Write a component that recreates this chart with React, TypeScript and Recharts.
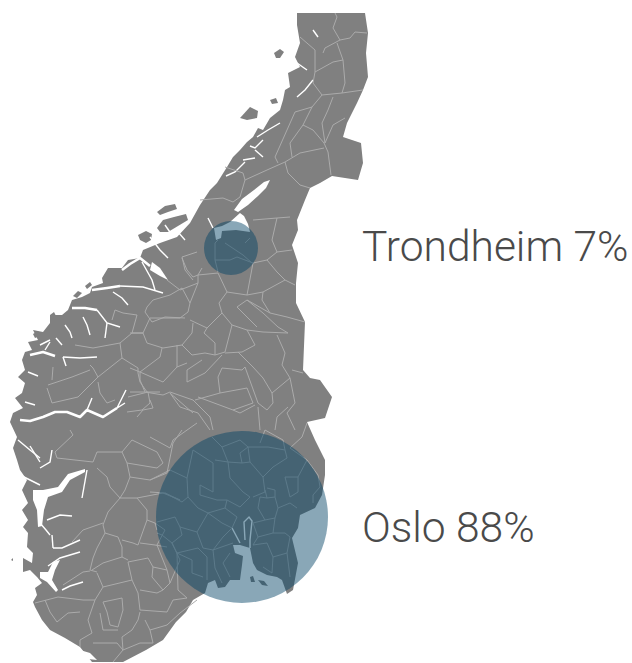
import React from 'react';
import { ScatterChart, Scatter, XAxis, YAxis, ZAxis } from 'recharts';

type Pair = number[];

// map is kept in projected map units
const mapOutline: Pair[] = [
  [297, 13], [365, 13], [368, 33], [366, 53], [368, 77], [363, 90], [357, 103], [347, 123], [343, 137], [361, 143], [363, 163], [358, 180],
  [332, 176], [320, 183], [310, 188], [305, 200], [297, 220], [298, 230], [292, 245], [298, 263], [296, 283], [296, 303], [305, 322], [303, 370],
  [310, 378], [320, 380], [332, 397], [325, 418], [307, 422], [315, 440], [325, 460], [325, 475], [322, 495], [315, 508], [300, 515], [298, 528],
  [292, 538], [298, 563], [293, 590], [287, 594], [282, 580], [277, 577], [267, 575], [257, 570], [253, 563], [250, 548], [240, 545], [233, 545], [235, 553],
  [243, 556], [242, 565], [240, 580], [230, 580], [225, 587], [218, 588], [215, 580], [208, 583], [205, 593], [193, 600], [186, 612], [176, 622], [163, 640],
  [146, 650], [123, 662], [92, 662], [80, 647], [65, 638], [50, 630], [42, 620], [35, 607], [33, 602], [37, 595], [35, 588], [42, 583], [37, 577],
  [30, 570], [23, 572], [23, 558], [32, 563], [33, 553], [27, 547], [28, 533], [23, 527], [28, 520], [22, 510], [28, 503], [22, 490], [27, 480],
  [20, 470], [17, 460], [13, 448], [17, 437], [10, 422], [13, 413], [23, 408], [15, 398], [22, 393], [25, 383], [18, 377], [25, 370], [22, 360],
  [25, 352], [32, 350], [28, 342], [38, 340], [33, 330], [43, 332], [50, 323], [50, 315], [62, 315], [68, 310], [72, 300], [82, 297], [90, 293],
  [92, 287], [103, 283], [102, 278], [108, 268], [122, 268], [128, 260], [140, 258], [143, 250], [160, 243], [177, 237], [190, 223], [200, 205],
  [210, 190], [217, 183], [227, 167], [233, 157], [240, 150], [247, 142], [253, 137], [258, 128], [263, 130], [270, 118], [280, 110], [283, 100],
  [285, 90], [290, 87], [288, 73], [300, 67], [295, 57], [300, 43], [297, 25],
];

const islands: Pair[][] = [
  [[157, 212], [165, 206], [175, 204], [177, 209], [168, 212], [160, 215]],
  [[157, 228], [163, 220], [174, 217], [186, 214], [188, 220], [178, 226], [168, 232], [160, 232]],
  [[138, 235], [146, 231], [152, 234], [151, 240], [146, 243], [140, 240]],
  [[240, 118], [250, 107], [258, 111], [257, 118], [247, 120]],
  [[274, 53], [280, 49], [284, 52], [280, 58], [276, 58]],
  [[270, 100], [276, 98], [278, 103], [272, 104]],
  [[258, 580], [264, 581], [268, 586], [262, 585]],
  [[250, 577], [253, 576], [255, 582], [251, 582]],
  [[33, 334], [38, 331], [40, 336], [35, 338]],
  [[50, 315], [54, 312], [56, 316]],
  [[11, 560], [13, 558], [13, 561]],
  [[73, 296], [78, 291], [82, 293], [77, 298]],
  [[85, 286], [90, 282], [92, 285], [87, 289]],
];

// the open water is wider than a stroke in a few places
const waterAreas: Pair[][] = [
  [[270, 180], [264, 182], [254, 190], [242, 199], [234, 210], [238, 212], [248, 205], [258, 196], [266, 188]],
  [[240, 213], [230, 222], [222, 226], [214, 228], [216, 240], [221, 238], [222, 231], [236, 230], [250, 232], [248, 224], [244, 216]],
  [[33, 490], [43, 490], [58, 487], [68, 474], [85, 469], [85, 472], [70, 480], [62, 492], [48, 497], [44, 510], [42, 526], [38, 527], [37, 510], [33, 500]],
  [[40, 572], [48, 572], [53, 562], [60, 560], [55, 570], [52, 580], [58, 590], [56, 592], [47, 582], [40, 578]],
  [[152, 262], [160, 268], [168, 280], [160, 276], [150, 270]],
  [[80, 650], [90, 653], [97, 660], [88, 659]],
];

const wideFjords: Pair[][] = [
  [[20, 420], [30, 421], [43, 417], [55, 412], [67, 412], [80, 417], [87, 410], [103, 417], [117, 408]],
  [[122, 270], [130, 264], [140, 258], [150, 266]],
  [[92, 290], [107, 288], [120, 286]],
  [[72, 308], [85, 308], [97, 310]],
  [[30, 355], [43, 352], [55, 356]],
];

const thinFjords: Pair[][] = [
  [[313, 80], [305, 90], [297, 97]],
  [[318, 37], [313, 30]],
  [[307, 70], [297, 63]],
  [[280, 123], [268, 130], [257, 137]],
  [[263, 140], [255, 148], [250, 146]],
  [[263, 157], [255, 150]],
  [[245, 162], [235, 172], [226, 176]],
  [[255, 158], [243, 160]],
  [[208, 218], [213, 228]],
  [[63, 357], [80, 358], [97, 357]],
  [[63, 357], [66, 366]],
  [[97, 310], [107, 323], [120, 327]],
  [[83, 317], [87, 325], [90, 335]],
  [[65, 325], [70, 332], [72, 338]],
  [[107, 323], [105, 338]],
  [[120, 286], [143, 287], [163, 293]],
  [[113, 292], [122, 298], [128, 305]],
  [[125, 403], [117, 408], [126, 390]],
  [[87, 410], [92, 398]],
  [[82, 498], [87, 470]],
  [[40, 523], [46, 530], [50, 535]],
  [[47, 520], [60, 515], [72, 516]],
  [[53, 548], [62, 548], [80, 540]],
  [[53, 548], [52, 535]],
  [[48, 566], [60, 558], [80, 552]],
  [[62, 590], [70, 586], [83, 582]],
  [[142, 262], [152, 280], [155, 290]],
  [[20, 475], [30, 480], [40, 485]],
  [[18, 440], [30, 450], [40, 458]],
  [[40, 468], [50, 462], [52, 450]],
  [[30, 446], [40, 462]],
  [[56, 338], [62, 345]],
  [[40, 345], [50, 340]],
  [[150, 237], [160, 250], [168, 258]],
  [[165, 225], [172, 235]],
  [[178, 232], [185, 240]],
  [[285, 62], [288, 45]],
  [[245, 540], [244, 522], [249, 517], [252, 521], [250, 540], [250, 548]],
  [[232, 528], [240, 543]],
  [[45, 350], [50, 342]],
  [[25, 402], [35, 405]],
  [[28, 372], [38, 376]],
];

const borders: Pair[][] = [
  [[367, 33], [355, 32], [350, 38], [340, 40], [333, 28], [337, 17], [335, 13]],
  [[340, 40], [325, 48], [323, 53]],
  [[337, 43], [343, 60], [345, 83], [342, 93]],
  [[315, 72], [333, 62], [343, 60]],
  [[363, 90], [342, 93], [322, 95], [313, 83], [315, 72], [315, 50], [300, 37]],
  [[322, 95], [312, 107], [303, 125], [313, 130], [324, 143], [328, 152], [331, 175]],
  [[333, 97], [328, 110], [322, 123], [325, 143]],
  [[345, 118], [333, 125], [325, 143]],
  [[324, 148], [300, 153], [285, 162], [267, 170], [245, 180], [240, 197], [233, 202]],
  [[285, 162], [288, 173], [300, 185], [310, 188]],
  [[303, 125], [290, 143], [292, 157]],
  [[312, 107], [295, 112], [287, 130], [275, 157], [278, 163]],
  [[225, 167], [243, 173], [245, 180]],
  [[200, 200], [223, 198], [233, 202]],
  [[253, 220], [277, 218], [272, 240], [277, 252], [267, 260], [253, 263]],
  [[277, 218], [290, 217]],
  [[277, 252], [292, 250]],
  [[267, 260], [277, 272], [285, 280], [295, 285]],
  [[285, 280], [263, 292], [247, 295], [253, 263]],
  [[247, 295], [227, 292], [218, 273], [198, 275], [198, 283], [180, 290], [167, 280]],
  [[198, 275], [202, 268]],
  [[182, 258], [187, 270], [193, 277], [198, 275]],
  [[227, 292], [219, 303], [222, 313], [207, 328], [190, 320]],
  [[198, 283], [190, 303], [188, 312], [180, 318], [150, 318], [143, 333], [147, 343], [163, 348], [182, 345], [192, 333], [193, 323]],
  [[182, 345], [192, 355], [205, 353], [215, 355], [215, 343], [204, 333], [207, 328]],
  [[222, 313], [232, 325], [225, 352], [215, 355]],
  [[232, 325], [247, 330], [255, 345], [242, 352], [225, 353]],
  [[247, 330], [263, 332], [288, 333], [278, 327], [263, 313], [247, 300], [237, 307], [257, 327]],
  [[247, 300], [270, 313], [287, 317], [305, 322]],
  [[263, 292], [262, 300], [270, 313]],
  [[277, 335], [285, 353], [282, 365], [290, 378], [295, 403], [287, 413], [295, 430]],
  [[290, 378], [272, 393], [263, 378], [253, 367], [238, 352]],
  [[272, 393], [273, 403], [267, 410], [258, 403], [245, 367], [242, 370], [222, 368], [218, 377], [220, 393], [195, 400]],
  [[222, 355], [205, 373], [187, 382], [187, 370], [202, 360]],
  [[292, 370], [303, 373]],
  [[220, 393], [247, 388], [253, 403], [233, 410], [198, 397]],
  [[170, 392], [193, 400], [210, 417], [213, 430]],
  [[177, 345], [177, 367], [163, 382], [140, 372], [140, 380], [145, 392], [163, 395], [170, 392]],
  [[177, 367], [187, 363]],
  [[162, 348], [160, 357], [140, 372]],
  [[130, 333], [143, 333]],
  [[130, 368], [140, 372]],
  [[130, 392], [145, 392]],
  [[150, 400], [153, 408], [143, 410], [137, 417]],
  [[170, 393], [180, 407], [198, 413], [210, 430]],
  [[288, 407], [277, 417], [275, 430]],
  [[258, 407], [260, 430]],
  [[233, 410], [240, 413], [255, 405]],
  [[182, 288], [170, 295], [153, 300], [147, 307], [145, 312], [152, 322], [165, 317], [185, 318]],
  [[182, 288], [190, 303]],
  [[143, 333], [132, 333], [120, 343], [122, 358], [138, 368], [138, 373], [140, 382], [147, 392], [160, 392]],
  [[120, 343], [93, 348], [75, 345]],
  [[122, 358], [98, 377], [78, 397], [52, 403]],
  [[98, 377], [93, 368], [90, 365]],
  [[98, 382], [100, 393], [107, 403], [115, 400]],
  [[47, 388], [52, 403]],
  [[90, 370], [72, 377], [48, 385]],
  [[53, 367], [52, 380]],
  [[137, 315], [123, 313], [115, 310], [112, 320]],
  [[137, 315], [132, 333]],
  [[128, 397], [148, 392], [150, 403], [142, 410], [127, 412]],
  [[197, 252], [182, 257], [185, 270], [193, 280]],
  [[170, 393], [193, 413]],
  [[132, 440], [122, 452], [97, 452], [93, 462], [57, 458], [55, 452], [73, 435], [70, 430]],
  [[132, 440], [157, 452], [163, 463], [157, 468], [127, 463], [122, 452]],
  [[127, 463], [130, 477], [150, 480], [167, 473], [173, 443], [182, 430]],
  [[130, 477], [125, 490], [120, 498], [110, 487], [107, 477], [97, 468]],
  [[120, 498], [137, 498], [163, 493], [180, 500]],
  [[137, 498], [147, 510], [147, 520], [155, 523], [157, 530]],
  [[120, 498], [108, 512], [103, 525], [105, 533], [118, 537], [122, 547], [122, 557], [128, 560]],
  [[147, 520], [138, 545], [133, 543], [122, 540]],
  [[140, 543], [155, 545], [167, 547]],
  [[103, 523], [83, 530], [72, 542]],
  [[105, 533], [97, 548], [93, 558], [90, 570], [97, 572]],
  [[90, 571], [83, 572], [63, 585]],
  [[122, 557], [103, 563], [92, 570]],
  [[97, 573], [103, 587], [95, 600], [83, 600], [58, 597], [35, 603]],
  [[103, 587], [132, 580], [128, 562], [148, 558], [153, 567], [152, 577], [163, 590], [170, 583], [167, 570], [153, 567]],
  [[132, 580], [138, 593], [140, 610], [167, 612], [173, 600], [187, 598]],
  [[103, 602], [122, 598], [123, 610], [118, 627], [110, 625], [107, 612], [103, 602]],
  [[95, 600], [88, 620], [92, 633], [80, 640], [80, 647]],
  [[57, 622], [68, 613], [80, 612]],
  [[45, 600], [50, 612], [57, 622]],
  [[140, 612], [138, 620], [132, 630], [122, 637], [123, 650], [140, 643], [153, 643], [150, 630], [145, 620]],
  [[100, 613], [103, 630], [118, 630]],
  [[150, 630], [167, 625], [180, 613], [197, 600]],
  [[140, 590], [157, 593], [163, 590]],
  [[93, 643], [117, 643], [123, 650], [113, 662]],
  // south east, under the larger circle
  [[150, 437], [170, 448], [173, 440], [197, 423]],
  [[193, 450], [187, 478], [170, 470], [150, 480]],
  [[187, 478], [188, 497], [182, 502], [165, 493], [150, 492]],
  [[193, 450], [213, 463], [213, 492], [200, 485], [200, 495], [217, 500]],
  [[215, 460], [228, 462], [230, 478], [243, 492], [250, 497], [240, 507], [227, 500], [217, 500]],
  [[228, 462], [242, 463], [250, 462], [263, 477], [265, 492], [253, 497]],
  [[250, 462], [248, 447], [240, 453], [242, 463]],
  [[222, 447], [228, 462]],
  [[212, 437], [222, 447], [240, 440], [248, 447], [268, 447], [285, 450], [283, 440], [265, 430], [260, 443]],
  [[285, 450], [287, 458], [273, 467], [263, 477]],
  [[285, 477], [298, 477], [298, 492], [290, 497], [285, 477]],
  [[298, 477], [307, 460], [318, 475], [320, 487], [313, 495], [313, 503]],
  [[307, 460], [290, 448], [302, 437], [307, 423]],
  [[267, 488], [275, 490], [275, 497], [267, 498], [265, 490]],
  [[275, 497], [278, 508], [290, 503], [297, 508]],
  [[267, 498], [260, 497], [258, 508], [265, 520], [275, 518], [278, 508]],
  [[265, 520], [253, 523], [258, 537], [273, 533], [275, 518]],
  [[273, 533], [285, 533], [290, 537], [287, 553], [290, 577]],
  [[258, 537], [253, 545], [267, 543], [273, 557], [287, 553]],
  [[273, 557], [272, 573], [263, 567]],
  [[227, 500], [225, 508], [208, 513], [198, 508], [188, 497]],
  [[208, 513], [222, 523], [232, 528], [223, 537], [213, 550], [203, 548], [197, 532], [208, 513]],
  [[232, 528], [237, 517], [225, 508]],
  [[197, 532], [180, 527], [175, 517], [157, 522]],
  [[180, 527], [182, 535], [172, 543], [162, 535], [157, 533]],
  [[172, 543], [177, 553], [198, 548], [207, 557], [207, 580]],
  [[177, 553], [192, 560], [192, 573], [203, 577]],
  [[213, 550], [215, 568], [222, 583]],
  [[230, 553], [223, 563], [230, 577]],
  [[213, 550], [233, 543]],
  [[155, 523], [165, 530], [157, 545], [167, 570]],
  [[180, 500], [165, 493]],
  [[172, 543], [180, 560], [170, 583]],
  [[177, 553], [178, 590], [187, 598]],
  // inside the smaller circle
  [[218, 240], [215, 243], [215, 260], [218, 272]],
  [[215, 260], [230, 260], [237, 257], [245, 260], [253, 263]],
  [[225, 243], [243, 255], [252, 263]],
  [[245, 243], [250, 238]],
];

const cities = [
  { x: 231, y: 248, share: 7 },
  { x: 242, y: 517, share: 88 },
];
const cityLabels = [
  { x: 362, y: 246, label: 'Trondheim 7%' },
  { x: 362, y: 527, label: 'Oslo 88%' },
];

const toPoints = (pairs: Pair[]) => pairs.map(([x, y]) => ({ x, y }));
const NoPoint = () => null;

const CityLabel = (props: any) => (
  <text x={props.cx} y={props.cy} dominantBaseline="central" fontFamily="Roboto" fontWeight={300} fontSize={42.5} fill="#4a4a4a">
    {props.payload.label}
  </text>
);

export default function App() {
  return (
    <div style={{ position: 'absolute', left: 0, top: 0 }}>
      <ScatterChart width={632} height={663} margin={{ top: 0, right: 0, bottom: 0, left: 0 }}>
        <XAxis type="number" dataKey="x" domain={[0, 632]} hide />
        <YAxis type="number" dataKey="y" domain={[0, 663]} reversed hide />
        <ZAxis type="number" dataKey="share" domain={[7, 88]} range={[2290, 23235]} />
        <Scatter data={toPoints(mapOutline)} shape={NoPoint} line={{ stroke: 'none', fill: '#808080' }} isAnimationActive={false} />
        {islands.map((p, i) => (
          <Scatter key={'isl' + i} data={toPoints(p)} shape={NoPoint} line={{ stroke: 'none', fill: '#808080' }} isAnimationActive={false} />
        ))}
        {waterAreas.map((p, i) => (
          <Scatter key={'wa' + i} data={toPoints(p)} shape={NoPoint} line={{ stroke: 'none', fill: '#fff' }} isAnimationActive={false} />
        ))}
        {wideFjords.map((p, i) => (
          <Scatter key={'wf' + i} data={toPoints(p)} shape={NoPoint} line={{ stroke: '#fff', strokeWidth: 2.6, fill: 'none', strokeLinejoin: 'round' }} isAnimationActive={false} />
        ))}
        {thinFjords.map((p, i) => (
          <Scatter key={'tf' + i} data={toPoints(p)} shape={NoPoint} line={{ stroke: '#fff', strokeWidth: 1.4, fill: 'none' }} isAnimationActive={false} />
        ))}
        {borders.map((p, i) => (
          <Scatter key={'b' + i} data={toPoints(p)} shape={NoPoint} line={{ stroke: '#ababab', strokeWidth: 1, fill: 'none' }} isAnimationActive={false} />
        ))}
        <Scatter data={cities} fill="#034264" fillOpacity={0.465} isAnimationActive={false} />
        <Scatter data={cityLabels} shape={CityLabel} isAnimationActive={false} />
      </ScatterChart>
    </div>
  );
}
